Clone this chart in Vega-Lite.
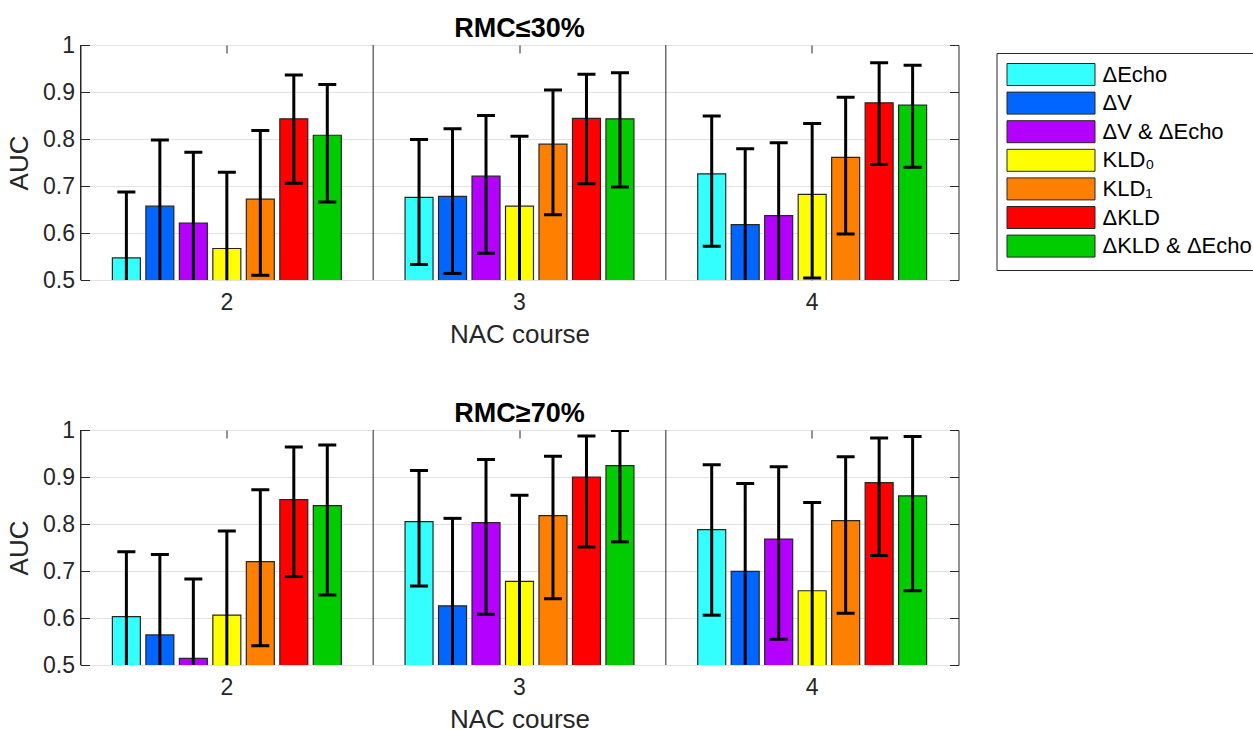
{
  "$schema": "https://vega.github.io/schema/vega-lite/v6.json",
  "padding": {"left": 5.5, "top": 14, "right": 0, "bottom": 0},
  "background": "white",
  "config": {
    "font": "Liberation Sans",
    "view": {"stroke": "#262626", "strokeWidth": 1},
    "axis": {
      "labelFont": "Liberation Sans", "titleFont": "Liberation Sans",
      "labelFontSize": 23, "titleFontSize": 26,
      "labelColor": "#262626", "titleColor": "#262626", "titleFontWeight": "normal",
      "tickColor": "#262626", "gridColor": "#e2e2e2"
    },
    "title": {"font": "Liberation Sans", "fontSize": 27, "fontWeight": "bold", "color": "#000000", "baseline": "alphabetic", "offset": -9}
  },
  "datasets": {
    "top": [
      {"course": "2", "method": "ΔEcho", "auc": 0.547, "lo": 0.41, "hi": 0.687},
      {"course": "2", "method": "ΔV", "auc": 0.657, "lo": 0.49, "hi": 0.798},
      {"course": "2", "method": "ΔV & ΔEcho", "auc": 0.621, "lo": 0.46, "hi": 0.772},
      {"course": "2", "method": "KLD₀", "auc": 0.567, "lo": 0.40, "hi": 0.729},
      {"course": "2", "method": "KLD₁", "auc": 0.672, "lo": 0.510, "hi": 0.818},
      {"course": "2", "method": "ΔKLD", "auc": 0.843, "lo": 0.706, "hi": 0.936},
      {"course": "2", "method": "ΔKLD & ΔEcho", "auc": 0.808, "lo": 0.666, "hi": 0.916},
      {"course": "3", "method": "ΔEcho", "auc": 0.676, "lo": 0.533, "hi": 0.799},
      {"course": "3", "method": "ΔV", "auc": 0.678, "lo": 0.514, "hi": 0.822},
      {"course": "3", "method": "ΔV & ΔEcho", "auc": 0.721, "lo": 0.557, "hi": 0.850},
      {"course": "3", "method": "KLD₀", "auc": 0.657, "lo": 0.48, "hi": 0.806},
      {"course": "3", "method": "KLD₁", "auc": 0.789, "lo": 0.639, "hi": 0.904},
      {"course": "3", "method": "ΔKLD", "auc": 0.844, "lo": 0.705, "hi": 0.938},
      {"course": "3", "method": "ΔKLD & ΔEcho", "auc": 0.843, "lo": 0.698, "hi": 0.941},
      {"course": "4", "method": "ΔEcho", "auc": 0.726, "lo": 0.572, "hi": 0.849},
      {"course": "4", "method": "ΔV", "auc": 0.618, "lo": 0.45, "hi": 0.779},
      {"course": "4", "method": "ΔV & ΔEcho", "auc": 0.637, "lo": 0.47, "hi": 0.792},
      {"course": "4", "method": "KLD₀", "auc": 0.682, "lo": 0.504, "hi": 0.833},
      {"course": "4", "method": "KLD₁", "auc": 0.761, "lo": 0.598, "hi": 0.889},
      {"course": "4", "method": "ΔKLD", "auc": 0.877, "lo": 0.746, "hi": 0.962},
      {"course": "4", "method": "ΔKLD & ΔEcho", "auc": 0.872, "lo": 0.740, "hi": 0.957}
    ],
    "bottom": [
      {"course": "2", "method": "ΔEcho", "auc": 0.603, "lo": 0.45, "hi": 0.741},
      {"course": "2", "method": "ΔV", "auc": 0.564, "lo": 0.40, "hi": 0.735},
      {"course": "2", "method": "ΔV & ΔEcho", "auc": 0.514, "lo": 0.35, "hi": 0.683},
      {"course": "2", "method": "KLD₀", "auc": 0.606, "lo": 0.43, "hi": 0.785},
      {"course": "2", "method": "KLD₁", "auc": 0.720, "lo": 0.541, "hi": 0.873},
      {"course": "2", "method": "ΔKLD", "auc": 0.852, "lo": 0.688, "hi": 0.964},
      {"course": "2", "method": "ΔKLD & ΔEcho", "auc": 0.839, "lo": 0.649, "hi": 0.968},
      {"course": "3", "method": "ΔEcho", "auc": 0.805, "lo": 0.668, "hi": 0.914},
      {"course": "3", "method": "ΔV", "auc": 0.626, "lo": 0.44, "hi": 0.812},
      {"course": "3", "method": "ΔV & ΔEcho", "auc": 0.803, "lo": 0.608, "hi": 0.937},
      {"course": "3", "method": "KLD₀", "auc": 0.678, "lo": 0.49, "hi": 0.861},
      {"course": "3", "method": "KLD₁", "auc": 0.818, "lo": 0.641, "hi": 0.944},
      {"course": "3", "method": "ΔKLD", "auc": 0.900, "lo": 0.751, "hi": 0.987},
      {"course": "3", "method": "ΔKLD & ΔEcho", "auc": 0.924, "lo": 0.762, "hi": 0.999},
      {"course": "4", "method": "ΔEcho", "auc": 0.788, "lo": 0.606, "hi": 0.926},
      {"course": "4", "method": "ΔV", "auc": 0.699, "lo": 0.49, "hi": 0.886},
      {"course": "4", "method": "ΔV & ΔEcho", "auc": 0.768, "lo": 0.555, "hi": 0.922},
      {"course": "4", "method": "KLD₀", "auc": 0.658, "lo": 0.47, "hi": 0.846},
      {"course": "4", "method": "KLD₁", "auc": 0.807, "lo": 0.610, "hi": 0.943},
      {"course": "4", "method": "ΔKLD", "auc": 0.888, "lo": 0.733, "hi": 0.983},
      {"course": "4", "method": "ΔKLD & ΔEcho", "auc": 0.860, "lo": 0.658, "hi": 0.986}
    ],
    "courses": [{"course": "2"}, {"course": "3"}, {"course": "4"}]
  },
  "resolve": {"legend": {"color": "independent"}},
  "spacing": 51,
  "vconcat": [
    {
      "width": 878, "height": 235,
      "title": {"text": "RMC≤30%"},
      "layer": [
        {
          "data": {"name": "top"},
          "mark": {"type": "bar", "stroke": "#262626", "strokeWidth": 1.2, "clip": true},
          "encoding": {
            "x": {"field": "course", "type": "nominal", "title": "NAC course", "scale": {"paddingInner": 0, "paddingOuter": 0},
                  "axis": {"orient": "bottom", "labelAngle": 0, "tickSize": -8, "labelPadding": 19, "titlePadding": 7, "domain": false, "grid": false}},
            "xOffset": {"field": "method", "type": "nominal", "sort": ["ΔEcho", "ΔV", "ΔV & ΔEcho", "KLD₀", "KLD₁", "ΔKLD", "ΔKLD & ΔEcho"], "scale": {"paddingInner": 0.164, "paddingOuter": 0.952}},
            "y": {"field": "auc", "type": "quantitative", "title": "AUC", "scale": {"domain": [0.5, 1], "zero": false, "nice": false},
                  "axis": {"orient": "left", "values": [0.5, 0.6, 0.7, 0.8, 0.9, 1], "labelExpr": "datum.value == 1 ? '1' : format(datum.value, '.1f')", "tickSize": -9, "labelPadding": 15, "titlePadding": 10, "grid": true, "domain": false}},
            "color": {"field": "method", "type": "nominal",
                      "scale": {"domain": ["ΔEcho", "ΔV", "ΔV & ΔEcho", "KLD₀", "KLD₁", "ΔKLD", "ΔKLD & ΔEcho"], "range": ["#33ffff", "#0066ff", "#b300ff", "#ffff00", "#ff8000", "#ff0000", "#00cc00"]},
                      "legend": {"orient": "none", "legendX": 916, "legendY": 8, "direction": "vertical", "title": null,
                                 "symbolType": "M-1,-1H7V1H-1Z", "symbolSize": 484, "symbolStrokeColor": "#262626", "symbolStrokeWidth": 1, "symbolOpacity": 1,
                                 "labelFont": "Liberation Sans", "labelFontSize": 22, "labelColor": "#000000", "labelOffset": 73, "labelLimit": 200,
                                 "rowPadding": 1.6, "padding": 10, "strokeColor": "#262626", "fillColor": "#ffffff"}}
          }
        },
        {
          "data": {"name": "courses"},
          "mark": {"type": "rule", "color": "#262626", "strokeWidth": 1},
          "encoding": {"x": {"field": "course", "type": "nominal", "bandPosition": 0, "axis": null}}
        },
        {
          "data": {"name": "top"},
          "mark": {"type": "rule", "color": "#000000", "strokeWidth": 3, "clip": true},
          "encoding": {
            "x": {"field": "course", "type": "nominal", "axis": null},
            "xOffset": {"field": "method", "type": "nominal", "sort": ["ΔEcho", "ΔV", "ΔV & ΔEcho", "KLD₀", "KLD₁", "ΔKLD", "ΔKLD & ΔEcho"]},
            "y": {"field": "lo", "type": "quantitative", "axis": null},
            "y2": {"field": "hi"}
          }
        },
        {
          "data": {"name": "top"},
          "mark": {"type": "tick", "color": "#000000", "thickness": 3, "size": 18, "clip": true, "opacity": 1},
          "encoding": {
            "x": {"field": "course", "type": "nominal", "axis": {"orient": "top", "labels": false, "title": null, "tickSize": -8, "domain": false, "grid": false}},
            "xOffset": {"field": "method", "type": "nominal", "sort": ["ΔEcho", "ΔV", "ΔV & ΔEcho", "KLD₀", "KLD₁", "ΔKLD", "ΔKLD & ΔEcho"]},
            "y": {"field": "hi", "type": "quantitative", "axis": null}
          }
        },
        {
          "data": {"name": "top"},
          "mark": {"type": "tick", "color": "#000000", "thickness": 3, "size": 18, "clip": true, "opacity": 1},
          "encoding": {
            "x": {"field": "course", "type": "nominal", "axis": null},
            "xOffset": {"field": "method", "type": "nominal", "sort": ["ΔEcho", "ΔV", "ΔV & ΔEcho", "KLD₀", "KLD₁", "ΔKLD", "ΔKLD & ΔEcho"]},
            "y": {"field": "lo", "type": "quantitative", "axis": {"orient": "right", "values": [0.5, 0.6, 0.7, 0.8, 0.9, 1], "labels": false, "title": null, "tickSize": -9, "grid": false, "domain": false}}
          }
        }
      ]
    },
    {
      "width": 878, "height": 235,
      "title": {"text": "RMC≥70%"},
      "layer": [
        {
          "data": {"name": "bottom"},
          "mark": {"type": "bar", "stroke": "#262626", "strokeWidth": 1.2, "clip": true},
          "encoding": {
            "x": {"field": "course", "type": "nominal", "title": "NAC course", "scale": {"paddingInner": 0, "paddingOuter": 0},
                  "axis": {"orient": "bottom", "labelAngle": 0, "tickSize": -8, "labelPadding": 19, "titlePadding": 7, "domain": false, "grid": false}},
            "xOffset": {"field": "method", "type": "nominal", "sort": ["ΔEcho", "ΔV", "ΔV & ΔEcho", "KLD₀", "KLD₁", "ΔKLD", "ΔKLD & ΔEcho"], "scale": {"paddingInner": 0.164, "paddingOuter": 0.952}},
            "y": {"field": "auc", "type": "quantitative", "title": "AUC", "scale": {"domain": [0.5, 1], "zero": false, "nice": false},
                  "axis": {"orient": "left", "values": [0.5, 0.6, 0.7, 0.8, 0.9, 1], "labelExpr": "datum.value == 1 ? '1' : format(datum.value, '.1f')", "tickSize": -9, "labelPadding": 15, "titlePadding": 10, "grid": true, "domain": false}},
            "color": {"field": "method", "type": "nominal",
                      "scale": {"domain": ["ΔEcho", "ΔV", "ΔV & ΔEcho", "KLD₀", "KLD₁", "ΔKLD", "ΔKLD & ΔEcho"], "range": ["#33ffff", "#0066ff", "#b300ff", "#ffff00", "#ff8000", "#ff0000", "#00cc00"]},
                      "legend": null}
          }
        },
        {
          "data": {"name": "courses"},
          "mark": {"type": "rule", "color": "#262626", "strokeWidth": 1},
          "encoding": {"x": {"field": "course", "type": "nominal", "bandPosition": 0, "axis": null}}
        },
        {
          "data": {"name": "bottom"},
          "mark": {"type": "rule", "color": "#000000", "strokeWidth": 3, "clip": true},
          "encoding": {
            "x": {"field": "course", "type": "nominal", "axis": null},
            "xOffset": {"field": "method", "type": "nominal", "sort": ["ΔEcho", "ΔV", "ΔV & ΔEcho", "KLD₀", "KLD₁", "ΔKLD", "ΔKLD & ΔEcho"]},
            "y": {"field": "lo", "type": "quantitative", "axis": null},
            "y2": {"field": "hi"}
          }
        },
        {
          "data": {"name": "bottom"},
          "mark": {"type": "tick", "color": "#000000", "thickness": 3, "size": 18, "clip": true, "opacity": 1},
          "encoding": {
            "x": {"field": "course", "type": "nominal", "axis": {"orient": "top", "labels": false, "title": null, "tickSize": -8, "domain": false, "grid": false}},
            "xOffset": {"field": "method", "type": "nominal", "sort": ["ΔEcho", "ΔV", "ΔV & ΔEcho", "KLD₀", "KLD₁", "ΔKLD", "ΔKLD & ΔEcho"]},
            "y": {"field": "hi", "type": "quantitative", "axis": null}
          }
        },
        {
          "data": {"name": "bottom"},
          "mark": {"type": "tick", "color": "#000000", "thickness": 3, "size": 18, "clip": true, "opacity": 1},
          "encoding": {
            "x": {"field": "course", "type": "nominal", "axis": null},
            "xOffset": {"field": "method", "type": "nominal", "sort": ["ΔEcho", "ΔV", "ΔV & ΔEcho", "KLD₀", "KLD₁", "ΔKLD", "ΔKLD & ΔEcho"]},
            "y": {"field": "lo", "type": "quantitative", "axis": {"orient": "right", "values": [0.5, 0.6, 0.7, 0.8, 0.9, 1], "labels": false, "title": null, "tickSize": -9, "grid": false, "domain": false}}
          }
        }
      ]
    }
  ]
}
